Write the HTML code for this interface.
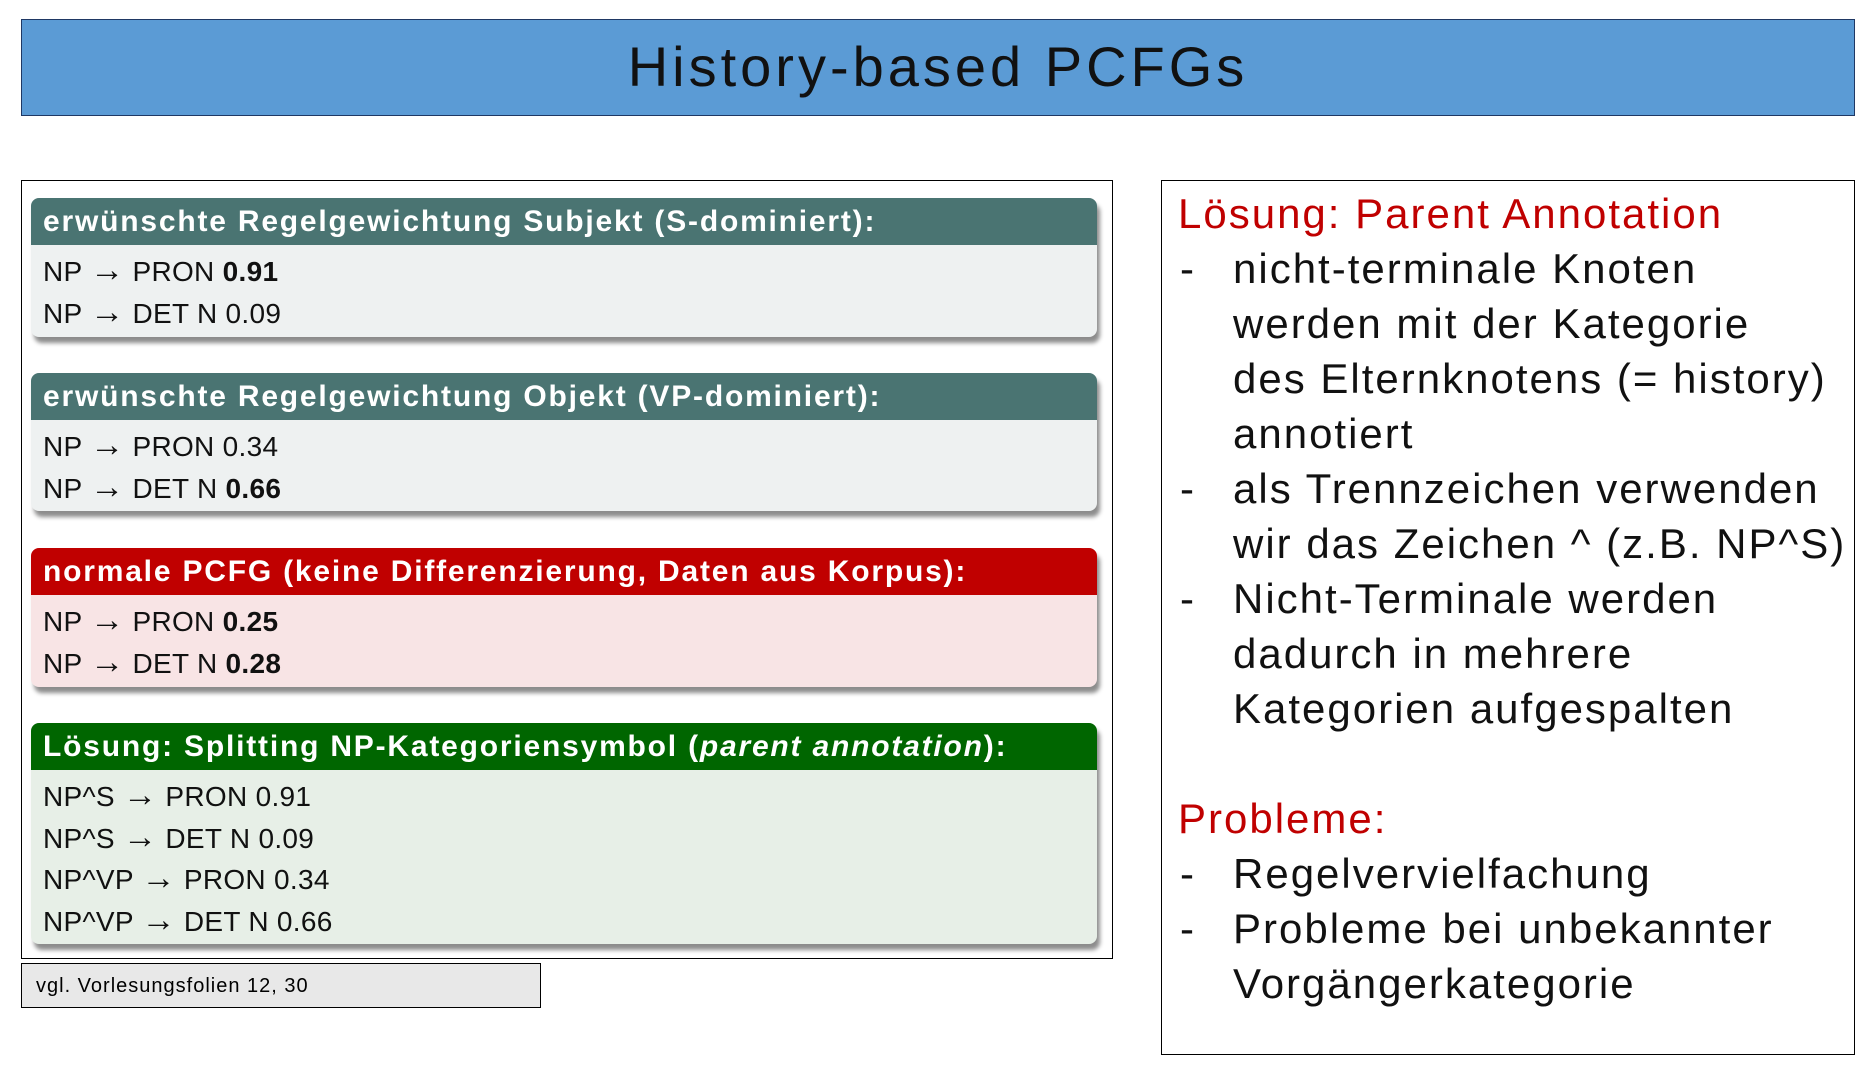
<!DOCTYPE html>
<html><head><meta charset="utf-8"><style>
body{margin:0;width:1873px;height:1068px;background:#fff;position:relative;overflow:hidden;font-family:"Liberation Sans",sans-serif}
.a{position:absolute}
.title{left:21px;top:19px;width:1832px;height:95px;background:#5b9bd5;border:1.5px solid #1f3864;text-align:center;line-height:93px;font-size:56px;color:#111;letter-spacing:4px}
.lb{left:21px;top:180px;width:1090px;height:777px;border:1.5px solid #000}
.rb{left:1161px;top:180px;width:692px;height:873px;border:1.5px solid #000}
.p{position:absolute;left:31px;width:1066px;border-radius:8px;box-shadow:3px 6px 4px rgba(0,0,0,0.45);overflow:hidden}
.h{height:47px;line-height:47px;color:#fff;font-weight:bold;font-size:30px;padding-left:12px;letter-spacing:1.8px;white-space:nowrap}
.b{padding:6px 0 0 12px;font-size:28px;line-height:41.5px;color:#111;letter-spacing:0.3px}
.b span{font-size:34px;line-height:20px}
.r{font-size:42px;color:#111;white-space:nowrap;letter-spacing:2px}
.red{color:#c00000}
</style></head><body>
<div class="a title">History-based PCFGs</div>
<div class="a lb"></div>
<div class="p" style="top:198px;height:139px;background:#eef1f1"><div class="h" style="background:#4a7472">erwünschte Regelgewichtung Subjekt (S-dominiert):</div><div class="b">NP <span>→</span> PRON <b>0.91</b><br>NP <span>→</span> DET N 0.09</div></div>
<div class="p" style="top:373px;height:138px;background:#eef1f1"><div class="h" style="background:#4a7472">erwünschte Regelgewichtung Objekt (VP-dominiert):</div><div class="b">NP <span>→</span> PRON 0.34<br>NP <span>→</span> DET N <b>0.66</b></div></div>
<div class="p" style="top:548px;height:139px;background:#f8e4e5"><div class="h" style="background:#c00000">normale PCFG (keine Differenzierung, Daten aus Korpus):</div><div class="b">NP <span>→</span> PRON <b>0.25</b><br>NP <span>→</span> DET N <b>0.28</b></div></div>
<div class="p" style="top:723px;height:221px;background:#e7efe7"><div class="h" style="background:#006600">Lösung: Splitting NP-Kategoriensymbol (<i>parent annotation</i>):</div><div class="b">NP^S <span>→</span> PRON 0.91<br>NP^S <span>→</span> DET N 0.09<br>NP^VP <span>→</span> PRON 0.34<br>NP^VP <span>→</span> DET N 0.66</div></div>
<div class="a" style="left:21px;top:963px;height:45px;background:#e8e8e8;border:1.5px solid #000;font-size:20px;line-height:45px;padding-left:14px;box-sizing:border-box;width:520px;letter-spacing:1px">vgl. Vorlesungsfolien 12, 30</div>
<div class="a rb"></div>
<div class="a r red" style="left:1178px;top:190px">Lösung: Parent Annotation</div>
<div class="a r" style="left:1180px;top:245px">-</div><div class="a r" style="left:1233px;top:245px">nicht-terminale Knoten</div>
<div class="a r" style="left:1233px;top:300px">werden mit der Kategorie</div>
<div class="a r" style="left:1233px;top:355px">des Elternknotens (= history)</div>
<div class="a r" style="left:1233px;top:410px">annotiert</div>
<div class="a r" style="left:1180px;top:465px">-</div><div class="a r" style="left:1233px;top:465px">als Trennzeichen verwenden</div>
<div class="a r" style="left:1233px;top:520px">wir das Zeichen ^ (z.B. NP^S)</div>
<div class="a r" style="left:1180px;top:575px">-</div><div class="a r" style="left:1233px;top:575px">Nicht-Terminale werden</div>
<div class="a r" style="left:1233px;top:630px">dadurch in mehrere</div>
<div class="a r" style="left:1233px;top:685px">Kategorien aufgespalten</div>
<div class="a r red" style="left:1178px;top:795px">Probleme:</div>
<div class="a r" style="left:1180px;top:850px">-</div><div class="a r" style="left:1233px;top:850px">Regelvervielfachung</div>
<div class="a r" style="left:1180px;top:905px">-</div><div class="a r" style="left:1233px;top:905px">Probleme bei unbekannter</div>
<div class="a r" style="left:1233px;top:960px">Vorgängerkategorie</div>
</body></html>
